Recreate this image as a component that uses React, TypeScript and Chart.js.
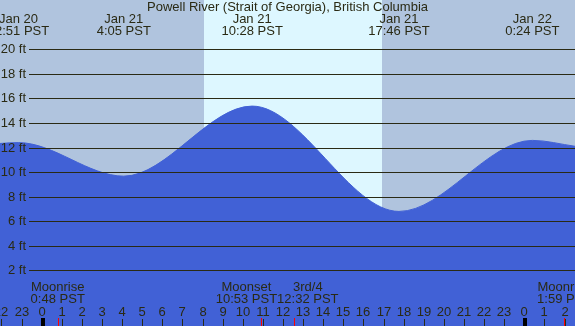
import React, { useEffect, useRef } from 'react';
import { Chart, registerables } from 'chart.js';

Chart.register(...registerables);

// ---- Data (hours are relative to Jan 21 00:00 PST) ----
const chartTitle = 'Powell River (Strait of Georgia), British Columbia';
const tideHours = [-2.07, -1.15, 4.083, 10.467, 17.767, 24.4, 26.52];
const tideHeights = [12.33, 12.4, 9.67, 15.37, 6.8, 12.58, 12.1];

const extremeHours = [-1.15, 4.083, 10.467, 17.767, 24.4];
const extremeDates = ['Jan 20', 'Jan 21', 'Jan 21', 'Jan 21', 'Jan 22'];
const extremeTimes = ['22:51 PST', '4:05 PST', '10:28 PST', '17:46 PST', '0:24 PST'];

const daylightStarts = [8.07];
const daylightEnds = [16.92];

const moonHours = [0.8, 10.883, 12.533, 25.983];
const moonNames = ['Moonrise', 'Moonset', '3rd/4', 'Moonrise'];
const moonTimes = ['0:48 PST', '10:53 PST', '12:32 PST', '1:59 PST'];

const heightTicks = [2, 4, 6, 8, 10, 12, 14, 16, 18, 20];
const hourTicks = [-2, -1, 0, 1, 2, 3, 4, 5, 6, 7, 8, 9, 10, 11, 12, 13, 14, 15, 16, 17, 18, 19, 20, 21, 22, 23, 24, 25, 26];

// ---- Styling / layout constants ----
const W = 575;
const H = 326;
const X_MIN = -2.07;
const X_MAX = 26.52;
const Y_MIN = -2.52;
const Y_MAX = 24;
const NIGHT = '#b0c4de';
const DAY = '#ddf7ff';
const WATER = '#4161d6';
const INK = '#2a2a14';
const FONT = '"Liberation Sans", Arial, sans-serif';

const overlayPlugin = {
  id: 'tideOverlay',
  beforeDatasetsDraw(chart: any) {
    const { ctx } = chart;
    const xs = chart.scales.x;
    ctx.save();
    ctx.fillStyle = NIGHT;
    ctx.fillRect(0, 0, chart.width, chart.height);
    ctx.fillStyle = DAY;
    daylightStarts.forEach((s, i) => {
      const x0 = Math.round(xs.getPixelForValue(s));
      const x1 = Math.round(xs.getPixelForValue(daylightEnds[i]));
      ctx.fillRect(x0, 0, x1 - x0, chart.height);
    });
    ctx.restore();
  },
  afterDatasetsDraw(chart: any) {
    const { ctx } = chart;
    const xs = chart.scales.x;
    const ys = chart.scales.y;
    ctx.save();
    // horizontal grid + labels
    ctx.strokeStyle = INK;
    ctx.lineWidth = 1;
    ctx.fillStyle = INK;
    ctx.font = `13px ${FONT}`;
    ctx.textAlign = 'right';
    ctx.textBaseline = 'middle';
    heightTicks.forEach((v) => {
      const y = Math.round(ys.getPixelForValue(v)) + 0.5;
      ctx.beginPath();
      ctx.moveTo(29, y);
      ctx.lineTo(chart.width, y);
      ctx.stroke();
      ctx.fillText(`${v} ft`, 26, y);
    });

    // title
    ctx.textAlign = 'center';
    ctx.font = `13px ${FONT}`;
    ctx.fillText(chartTitle, chart.width / 2, 7);

    // tide extreme labels
    ctx.font = `13px ${FONT}`;
    extremeHours.forEach((h, i) => {
      const x = xs.getPixelForValue(h);
      ctx.fillText(extremeDates[i], x, 19);
      ctx.fillText(extremeTimes[i], x, 31);
    });

    // hour axis labels and ticks
    hourTicks.forEach((h) => {
      const x = Math.round(xs.getPixelForValue(h));
      const label = String(((h % 24) + 24) % 24);
      ctx.fillStyle = INK;
      ctx.fillText(label, x, 312);
      if (label === '0') {
        ctx.fillStyle = '#000000';
        ctx.fillRect(x - 1, 318, 4, H - 318);
      } else {
        ctx.fillStyle = INK;
        ctx.fillRect(x, 319, 1, H - 319);
      }
    });

    // moon events
    const centers = moonHours.map((h) => xs.getPixelForValue(h));
    const widths = moonNames.map((n, i) => Math.max(ctx.measureText(n).width, ctx.measureText(moonTimes[i]).width));
    const pos = centers.slice();
    for (let i = 1; i < pos.length; i++) {
      const need = (widths[i - 1] + widths[i]) / 2;
      if (pos[i] - pos[i - 1] < need) {
        const mid = (pos[i] + pos[i - 1]) / 2;
        pos[i - 1] = mid - need / 2;
        pos[i] = mid + need / 2;
      }
    }
    moonHours.forEach((h, i) => {
      ctx.fillStyle = INK;
      ctx.fillText(moonNames[i], pos[i], 287);
      ctx.fillText(moonTimes[i], pos[i], 299);
      ctx.fillStyle = '#ff0000';
      ctx.fillRect(Math.round(centers[i]), 318, 1, H - 318);
    });
    ctx.restore();
  },
};

export default function App() {
  const ref = useRef<HTMLCanvasElement | null>(null);
  useEffect(() => {
    document.body.style.margin = '0';
    if (!ref.current) return;
    const chart = new Chart(ref.current, {
      type: 'line',
      data: {
        datasets: [
          {
            data: tideHours.map((h, i) => ({ x: h, y: tideHeights[i] })),
            fill: 'start',
            backgroundColor: WATER,
            borderColor: WATER,
            borderWidth: 1,
            pointRadius: 0,
            cubicInterpolationMode: 'monotone',
          },
        ],
      },
      options: {
        animation: false,
        responsive: false,
        devicePixelRatio: 1,
        layout: { padding: 0 },
        plugins: { legend: { display: false }, tooltip: { enabled: false } },
        scales: {
          x: { type: 'linear', min: X_MIN, max: X_MAX, display: false },
          y: { type: 'linear', min: Y_MIN, max: Y_MAX, display: false },
        },
      },
      plugins: [overlayPlugin],
    } as any);
    return () => chart.destroy();
  }, []);
  return (
    <div style={{ width: W, height: H }}>
      <canvas ref={ref} width={W} height={H} style={{ display: 'block' }} />
    </div>
  );
}
